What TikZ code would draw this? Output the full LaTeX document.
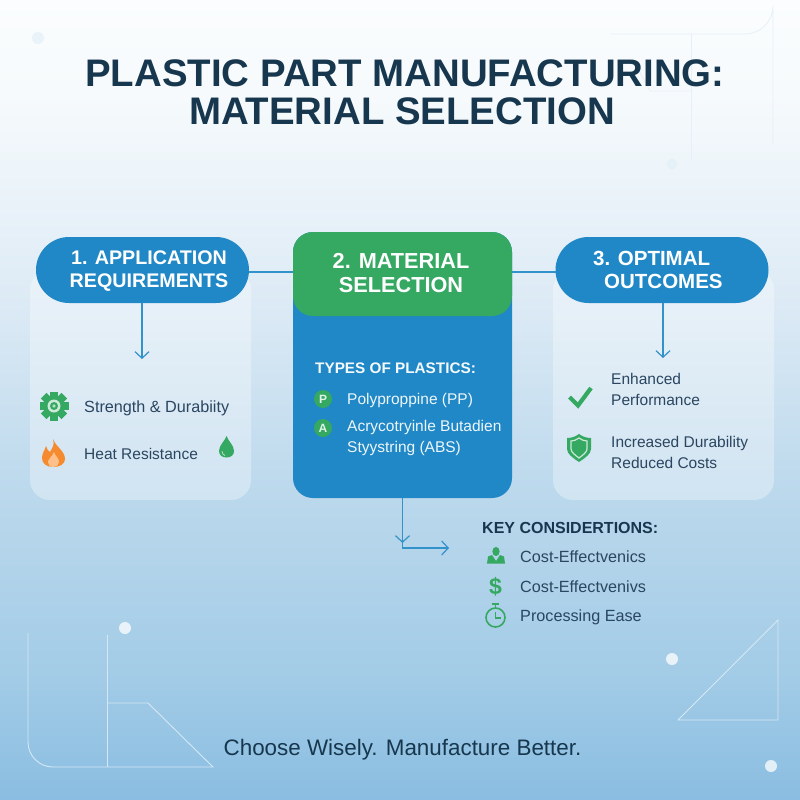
\documentclass[tikz,border=0pt]{standalone}
\usepackage{fontspec}
\usetikzlibrary{arrows.meta}
\setmainfont{Liberation Sans}
\definecolor{mainblue}{HTML}{2088C6}
\definecolor{maingreen}{HTML}{35A862}
\definecolor{titleink}{HTML}{17374F}
\definecolor{itemink}{HTML}{2A4660}
\definecolor{decoline}{HTML}{D6E8F4}
\definecolor{decotop}{HTML}{E6F0F8}
\definecolor{flameout}{HTML}{F58B2E}
\definecolor{flamein}{HTML}{FDC08A}
\definecolor{bga}{HTML}{8ABDE1}
\definecolor{bgb}{HTML}{A3CCE7}
\definecolor{bgc}{HTML}{BBD8EC}
\definecolor{bgd}{HTML}{DCEAF5}
\definecolor{bge}{HTML}{E9F2F9}
\definecolor{bgf}{HTML}{F6FAFC}
\definecolor{bgg}{HTML}{FBFDFE}
\pgfdeclareverticalshading{bgshade}{100bp}{
color(0bp)=(bga);
color(25bp)=(bga);
color(33bp)=(bgb);
color(44bp)=(bgc);
color(56bp)=(bgd);
color(62bp)=(bge);
color(69bp)=(bgf);
color(75bp)=(bgg);
color(100bp)=(bgg)}
\begin{document}
\begin{tikzpicture}[x=1pt,y=-1pt,
  titletext/.style={font=\fontsize{38.4}{41}\selectfont\bfseries,text=titleink,inner sep=0pt},
  headtext/.style={font=\fontsize{20.5}{23.5}\selectfont\bfseries,text=white,align=center,inner sep=0pt},
  pill/.style={fill=mainblue,rounded corners=33pt,minimum width=213pt,minimum height=66pt},
  panel/.style={fill=white,fill opacity=0.32,rounded corners=20pt,minimum width=221pt,minimum height=230pt},
  itemtext/.style={font=\fontsize{15.5}{21}\selectfont,text=itemink,anchor=west,align=left,inner sep=0pt},
  keytext/.style={itemtext,font=\fontsize{16.2}{21}\selectfont},
  whitetext/.style={font=\fontsize{15.5}{21}\selectfont,text=white!92!mainblue,anchor=west,align=left,inner sep=0pt},
  boldtext/.style={font=\fontsize{15.3}{18}\selectfont\bfseries,anchor=west,inner sep=0pt},
  badge/.style={circle,fill=maingreen,minimum size=18pt,inner sep=0pt,font=\fontsize{12}{12}\selectfont\bfseries,text=white!85!maingreen},
  link/.style={mainblue!92!white,line width=1.2pt},
  tip/.style={link,-{Straight Barb[length=6.5pt,width=14pt,line width=1.2pt]}},
  deco/.style={decoline,line width=0.9pt},
  dot/.style={circle,fill=white,fill opacity=0.75,minimum size=12pt,inner sep=0pt}]

\path[shading=bgshade] (0,0) rectangle (800,800);
\useasboundingbox (0,0) rectangle (800,800);

\draw[decotop,line width=0.8pt] (610,34) -- (745,34) arc[start angle=90,end angle=0,radius=28] -- (773,145);
\draw[decotop,line width=0.8pt] (691,34) -- (691,160);
\draw[decotop,line width=0.8pt] (632,58) -- (650,91) -- (691,91);
\node[dot,fill=decotop,minimum size=12pt] at (38,38)(dottl) {};
\node[dot,fill=decotop,minimum size=11pt,fill opacity=1] at (672,164)(dottr) {};

\draw[deco] (28,633) -- (28,742) arc[start angle=180,end angle=90,radius=25] -- (213,767) -- (148,703) -- (107,703);
\draw[deco] (107,635) -- (107,767);
\draw[deco] (778,620) -- (778,720) -- (678,720) -- cycle;
\node[dot] at (125,628)(dotbl) {};
\node[dot] at (672,659)(dotbr) {};
\node[dot] at (771,766)(dotcorner) {};

\node[titletext] at (405,73)(title1) {PLASTIC PART MANUFACTURING:};
\node[titletext] at (402,111)(title2) {MATERIAL SELECTION};

\node[panel] at (140.5,385)(leftpanel) {};
\node[panel] at (663.5,385)(rightpanel) {};

\node[fill=mainblue,rounded corners=20pt,minimum width=219pt,minimum height=266pt] at (402.5,365)(matbox) {};
\node[fill=maingreen,rounded corners=20pt,minimum width=219pt,minimum height=84pt] at (402.5,274)(mathead) {};
\node[headtext,font=\fontsize{21.7}{24}\selectfont\bfseries] at (401,273)(mathead text) {2. MATERIAL\\SELECTION};

\node[pill] at (142.5,270)(req) {};
\node[headtext,font=\fontsize{19.7}{23}\selectfont\bfseries] at (149,271)(req text) {1. APPLICATION\\REQUIREMENTS};
\node[pill] at (662,270)(out) {};
\node[headtext,align=left,anchor=west] at (593,270)(out text) {3. OPTIMAL\\\hspace*{11pt}OUTCOMES};

\coordinate (reqlink) at (249,272);
\coordinate (matlinkl) at (293,272);
\coordinate (matlinkr) at (512,272);
\coordinate (outlink) at (556,272);
\draw[link] (reqlink) -- (matlinkl);
\draw[link] (matlinkr) -- (outlink);

\coordinate (reqtip) at (142,359);
\coordinate (outtip) at (663,358);
\draw[tip] (142,303) -- (reqtip);
\draw[tip] (663,303) -- (outtip);

\coordinate (elbow) at (402.5,548);
\coordinate (elbowmid) at (402.5,543);
\coordinate (keytip) at (449,548);
\draw[tip] (402.5,498) -- (elbowmid);
\draw[tip] (elbowmid) -- (elbow) -- (keytip);

\node[itemtext,font=\fontsize{16.2}{21}\selectfont] at (84,408)(strength) {Strength \& Durabiity};
\node[itemtext] at (84,453.5)(heat) {Heat Resistance};

\node[boldtext,text=white!95!mainblue] at (315,368)(types) {TYPES OF PLASTICS:};
\node[badge] at (323,399)(badgep) {P};
\node[badge] at (323,428)(badgea) {A};
\node[whitetext] at (347,400)(pp) {Polyproppine (PP)};
\node[whitetext] at (347,437.5)(abs) {Acrycotryinle Butadien\\Styystring (ABS)};

\node[itemtext] at (611,389.5)(perf) {Enhanced\\Performance};
\node[itemtext] at (611,452.5)(dura) {Increased Durability\\Reduced Costs};

\node[boldtext,font=\fontsize{16}{18}\selectfont\bfseries,text=titleink] at (482,528)(key) {KEY CONSIDERTIONS:};
\node[keytext] at (520,557)(cost1) {Cost-Effectvenics};
\node[keytext] at (520,587)(cost2) {Cost-Effectvenivs};
\node[keytext] at (520,617)(ease) {Processing Ease};

\node[font=\fontsize{22.4}{24}\selectfont,text=titleink,inner sep=0pt] at (402.5,750)(motto) {Choose Wisely. Manufacture Better.};

\foreach \a in {0,45,...,315}
  \fill[maingreen,rotate around={\a:(54,406)}] (50,391.5) rectangle (58,400);
\fill[maingreen] (54,406) circle (11);
\fill[white!75!maingreen] (54,406) circle (6.5);
\fill[maingreen] (54,406) circle (4);
\fill[white!60!maingreen] (54,406) circle (1.8);

\fill[flameout] (53,439) .. controls (56,447) and (65,451) .. (65,459)
  .. controls (65,464) and (60,467) .. (53,467) .. controls (46,467) and (42,463) .. (42,458)
  .. controls (42,453) and (45,450) .. (46,446) .. controls (47,449) and (48,451) .. (50,452)
  .. controls (52,448) and (55,445) .. (53,439);
\fill[flamein] (54,452) .. controls (55,456) and (59,458) .. (59,462)
  .. controls (59,465) and (56,467) .. (53.5,467) .. controls (50,467) and (48,465) .. (48,462)
  .. controls (48,459) and (52,457) .. (54,452);

\fill[maingreen] (226.5,436) .. controls (228,441) and (234,445) .. (234,451)
  .. controls (234,455) and (231,457.5) .. (226.5,457.5) .. controls (222,457.5) and (219,455) .. (219,451)
  .. controls (219,445) and (225,441) .. (226.5,436);
\draw[white!70!maingreen,line width=0.7pt] (222,451) .. controls (222,453) and (223,455) .. (225,455.5);

\draw[maingreen,line width=4.2pt] (569.5,397) -- (578,405.5) -- (591,388);

\fill[maingreen] (579,434) .. controls (583,437) and (587,438) .. (591,438) -- (591,449)
  .. controls (591,454) and (585,458) .. (579,462) .. controls (573,458) and (567,454) .. (567,449)
  -- (567,438) .. controls (571,438) and (575,437) .. (579,434) -- cycle;
\draw[white!75!maingreen,line width=1.2pt] (579,438) .. controls (582,440) and (584,441) .. (587,441) -- (587,449)
  .. controls (587,452) and (583,455) .. (579,458) .. controls (575,455) and (571,452) .. (571,449)
  -- (571,441) .. controls (574,441) and (576,440) .. (579,438) -- cycle;

\fill[maingreen] (487,563.5) -- (488,556.5) -- (492,555) -- (496,561) -- (500,555) -- (504,556.5) -- (505,563.5) -- cycle;
\fill[maingreen] (496,551.5) ellipse (3.6 and 4.6);

\node[font=\fontsize{23}{23}\selectfont\bfseries,text=maingreen,inner sep=0pt] at (495.5,586.5)(dollar) {\$};

\draw[maingreen,line width=1.6pt] (495.5,617.5) circle (9.5);
\draw[maingreen,line width=1.6pt] (495.5,608) -- (495.5,604);
\draw[maingreen,line width=1.6pt] (492,604) -- (499,604);
\draw[maingreen,line width=1.6pt] (495.5,612) -- (495.5,618) -- (501,618);
\end{tikzpicture}
\end{document}
